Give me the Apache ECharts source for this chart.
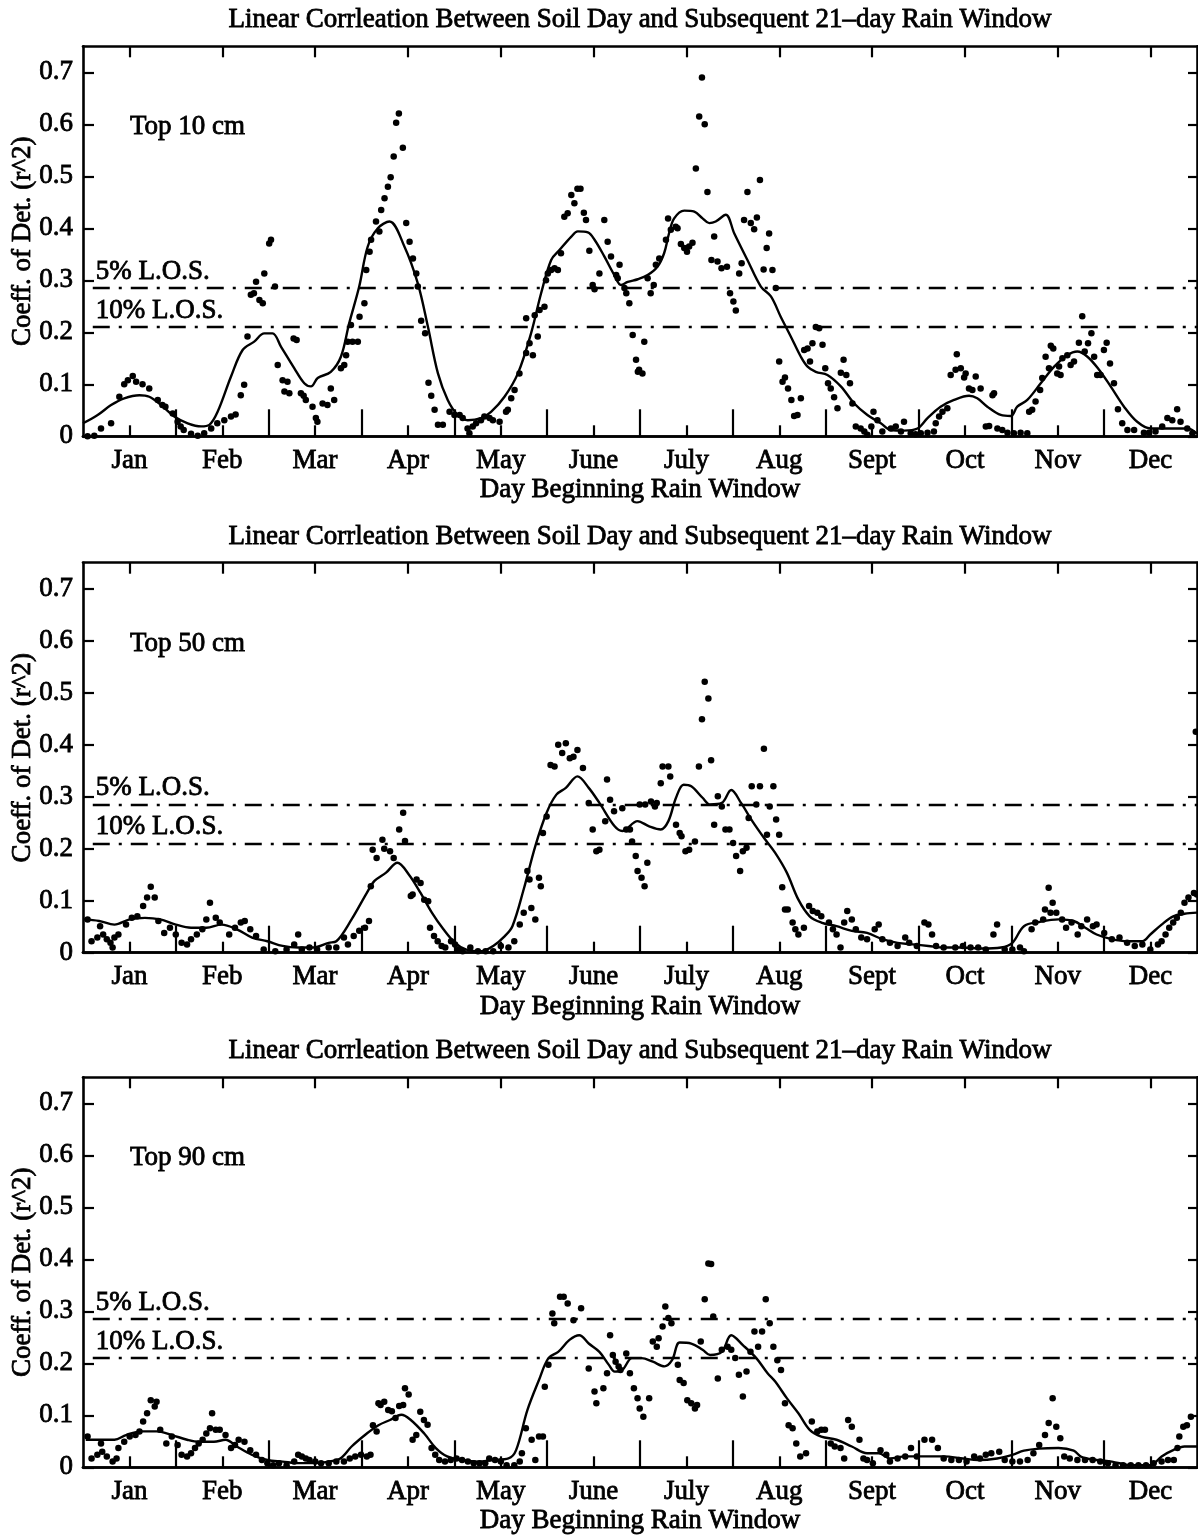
<!DOCTYPE html>
<html>
<head>
<meta charset="utf-8">
<script src="https://cdn.jsdelivr.net/npm/echarts@6/dist/echarts.min.js"></script>
<style>
  html, body { margin: 0; padding: 0; background: #fff; }
  #chart { width: 1198px; height: 1536px; }
</style>
</head>
<body>
<div id="chart"></div>
<script>
// ---------- axis / label data ----------
const MONTHS = ['Jan', 'Feb', 'Mar', 'Apr', 'May', 'June', 'July', 'Aug', 'Sept', 'Oct', 'Nov', 'Dec'];
const YEAR_DAYS = 365;
const Y_TICKS = [0, 0.1, 0.2, 0.3, 0.4, 0.5, 0.6, 0.7];
const Y_MAX = 0.75;
const TITLE = 'Linear Corrleation Between Soil Day and Subsequent 21\u2013day Rain Window';
const X_NAME = 'Day Beginning Rain Window';
const Y_NAME = 'Coeff. of Det. (r^2)';
const PANEL_LABELS = ['Top 10 cm', 'Top 50 cm', 'Top 90 cm'];
const LOS_LABELS = ['5% L.O.S.', '10% L.O.S.'];
const LOS_VALUES = [0.285, 0.21];
const LOS_X = [3.2, 365];

// ---------- Top 10 cm ----------
const DOTS_10 = [[1.5,0.0],[3.7,0.001],[5.9,0.015],[9.2,0.025],[11.9,0.076],[13.5,0.10],[14.7,0.108],[16.3,0.116],[17.4,0.105],[19.5,0.10],[21.7,0.092],[24.5,0.07],[26,0.06],[27,0.057],[29.4,0.044],[31,0.028],[32,0.019],[33,0.012],[35.4,0.005],[37.6,0.001],[39.7,0.006],[42,0.015],[44,0.025],[46.3,0.031],[48.5,0.038],[50,0.042],[51.7,0.079],[52.8,0.099],[53.9,0.192],[55,0.272],[56,0.275],[56.7,0.297],[57.8,0.262],[58.9,0.256],[59.4,0.313],[61,0.371],[61.6,0.378],[62.9,0.288],[63.8,0.137],[65.4,0.108],[66,0.086],[67,0.105],[67.6,0.083],[69,0.188],[70,0.185],[71.4,0.083],[72.3,0.078],[73,0.07],[75.2,0.057],[76.3,0.035],[76.8,0.028],[78.5,0.063],[80.1,0.06],[81.2,0.092],[82.3,0.07],[84.5,0.131],[85.6,0.137],[86.2,0.156],[86.7,0.182],[87.8,0.214],[88.3,0.182],
[90.05,0.182],[90.6,0.23],[92.2,0.256],[92.8,0.32],[93.9,0.355],[94.4,0.378],[96,0.413],[97.1,0.394],[97.7,0.435],[98.8,0.458],[99.9,0.48],[100.8,0.498],[101.8,0.538],[102.6,0.603],[103.5,0.621],[104.8,0.555],[105.9,0.41],[107,0.374],[108.1,0.342],[109.2,0.313],[109.7,0.288],[110.8,0.222],[112.1,0.198],[113.2,0.103],[114.1,0.078],[115.2,0.051],[116.3,0.022],[117.9,0.022],[120.1,0.047],[121.7,0.041],[123.4,0.041],[124.4,0.035],[126,0.015],[126.6,0.006],[127.7,0.019],[128.8,0.025],[130.4,0.031],[131.5,0.038],[133.2,0.035],[134.3,0.031],[136.5,0.028],[138.6,0.047],[139.2,0.051],[140.3,0.073],[141.4,0.089],[143,0.121],[145.2,0.16],[145.2,0.227],[146.3,0.179],[147.4,0.156],[148,0.233],[149,0.192],[149.6,0.243],[151.2,0.249],[151.7,0.30],[152.3,0.313],[153.4,0.32],[154.5,0.323],[155.6,0.32],[156.6,0.352],[157.7,0.422],[158.8,0.429],[160,0.464],[161,0.448],[162,0.476],[163,0.476],[164.1,0.43],[164.8,0.416],[165.9,0.357],[167,0.291],[167.6,0.283],[169.2,0.313],[170.8,0.416],[171.9,0.374],[173,0.346],[174.7,0.31],[175.2,0.304],[175.8,0.33],[177.4,0.285],[178,0.275],[179,0.256],[180.1,0.195],[181.2,0.147],[181.8,0.124],
[182.2,0.128],[183.3,0.121],[183.9,0.182],[185,0.304],[186,0.275],[187,0.291],[187.7,0.33],[188.8,0.342],[191,0.378],[191.7,0.419],[192.6,0.397],[194.2,0.403],[194.8,0.40],[195.9,0.37],[197,0.362],[197.9,0.355],[198.6,0.365],[199.7,0.372],[200.8,0.515],[201.9,0.615],[202.8,0.69],[203.7,0.60],[204.6,0.47],[205.9,0.339],[206.8,0.384],[207.9,0.336],[209.2,0.323],[211,0.326],[212,0.275],[213.1,0.259],[213.9,0.242],[215,0.313],[215.8,0.333],[216.6,0.416],[217.7,0.47],[218.8,0.41],[219.9,0.398],[220.8,0.421],[221.8,0.493],[223,0.321],[224,0.362],[224.8,0.39],[225.9,0.32],[227,0.285],[228.1,0.144],[229.2,0.105],[230,0.113],[231,0.092],[232.1,0.07],[233,0.039],[234.1,0.041],[235.2,0.073],[236.3,0.166],[237.4,0.169],[238.2,0.144],[239,0.179],[240.1,0.21],[241.2,0.208],[242.3,0.176],[243.2,0.131],[244.1,0.102],[245,0.092],[246.1,0.075],[247.2,0.054],[248.3,0.122],[249.2,0.147],[250.1,0.118],[251.3,0.102],[252.1,0.063],[253.2,0.019],[254.8,0.015],[256,0.009],[257,0.003],[258.3,0.019],[259,0.047],[260.3,0.031],[261.9,0.009],[264.7,0.015],[266.3,0.019],[268,0.009],[269,0.028],[271.2,0.006],
[272.8,0.004],[274.5,0.006],[276.7,0.007],[278.8,0.009],[279.4,0.025],[280.5,0.038],[281.6,0.047],[283.2,0.054],[284.3,0.118],[285.9,0.128],[286.3,0.158],[287.6,0.131],[288.7,0.113],[289.2,0.121],[290.3,0.092],[291.4,0.089],[292.5,0.115],[294.1,0.092],[295.8,0.019],[296.9,0.02],[298,0.079],[298.5,0.083],[299.6,0.015],[301.2,0.012],[302.9,0.007],[305,0.006],[307.2,0.007],[309.4,0.006],[310,0.047],[311,0.051],[312.1,0.067],[313.6,0.089],[314.3,0.112],[315.4,0.153],[316.5,0.131],[317.1,0.174],[317.9,0.169],[319.2,0.121],[319.8,0.134],[320.3,0.118],[320.9,0.15],[322.5,0.156],[323.6,0.137],[324.7,0.144],[326.3,0.18],[327.4,0.231],[328.2,0.163],[329.3,0.179],[330.4,0.198],[331.3,0.153],[332.3,0.118],[333.4,0.118],[334.5,0.166],[335.4,0.18],[336.5,0.14],[337.8,0.102],[339.1,0.052],[340.5,0.025],[342.2,0.012],[344.4,0.012],[347.6,0.007],[349.3,0.007],[351.4,0.009],[353.6,0.019],[355.3,0.035],[356.9,0.031],[358.5,0.052],[359.6,0.028],[361.8,0.015],[363.5,0.006]];
const LINE_10 = [[0,0.025],[4.8,0.041],[9.2,0.06],[13.5,0.073],[18.5,0.079],[21.7,0.076],[25.6,0.06],[29.9,0.038],[34.3,0.025],[38.7,0.019],[41.4,0.022],[44.1,0.047],[48.5,0.115],[52.3,0.166],[56.1,0.182],[59.4,0.198],[62.1,0.198],[64.9,0.172],[69.2,0.131],[72.5,0.102],[74.7,0.096],[76.9,0.112],[81.2,0.124],[84.5,0.153],[87.2,0.217],[90.5,0.288],[93.3,0.365],[96.6,0.40],[100.4,0.413],[105.3,0.365],[109.7,0.294],[113,0.211],[116.3,0.121],[119.5,0.07],[122.8,0.041],[126.1,0.031],[130.4,0.035],[133.7,0.047],[138.1,0.076],[142.5,0.121],[146.8,0.198],[150.1,0.275],[153.4,0.339],[156.1,0.358],[160,0.384],[162.1,0.394],[165.4,0.392],[167.6,0.378],[170.8,0.346],[174.1,0.31],[176.3,0.291],[178.5,0.297],[181.8,0.302],[185,0.31],[188.2,0.326],[190.4,0.352],[192,0.39],[193.7,0.419],[197,0.434],[200.3,0.432],[203,0.419],[205.2,0.41],[207.3,0.413],[210.6,0.426],[213.4,0.39],[217.7,0.339],[222.1,0.288],[225.4,0.269],[228.6,0.23],[231.9,0.192],[235.2,0.153],[237.4,0.134],[240.1,0.124],[243.9,0.118],[248.3,0.096],[252.7,0.063],[257,0.041],[261.4,0.025],[264.7,0.012],[269,0.011],[273.4,0.015],[276.7,0.035],[281,0.057],[285.4,0.07],[290.3,0.078],[293,0.073],[296.3,0.057],[300.7,0.041],[304,0.039],[306.1,0.057],[309.4,0.07],[313.8,0.102],[318.2,0.134],[322.5,0.156],[325.8,0.163],[329.1,0.153],[332.9,0.128],[336.7,0.096],[341.1,0.057],[345.4,0.028],[349.8,0.015],[354.2,0.015],[358.5,0.015],[361.8,0.015],[365,0.005]];

// ---------- Top 50 cm ----------
const DOTS_50 = [[1.5,0.064],[2.8,0.022],[4.7,0.029],[5.6,0.051],[6.6,0.035],[7.8,0.026],[9,0.019],[9.7,0.01],[10.3,0.029],[11.6,0.035],[14.1,0.054],[16,0.067],[17.8,0.07],[19.7,0.09],[21,0.106],[22.2,0.127],[23.5,0.106],[24.7,0.061],[26.6,0.038],[28.5,0.048],[30.4,0.035],[32.3,0.019],[34.1,0.016],[35.4,0.026],[37.3,0.035],[39.1,0.045],[40.4,0.064],[41.6,0.096],[43.5,0.067],[44.8,0.058],[47.9,0.035],[49.8,0.048],[51.7,0.058],[53,0.061],[54.8,0.045],[56.7,0.032],[59.2,0.006],[63,0.003],[66.7,0.006],[69.2,0.016],[70.5,0.035],[71.7,0.006],[74.2,0.01],[76.7,0.006],[80.5,0.01],[83,0.01],[85.5,0.029],[86.8,0.016],[88.7,0.032],[90.5,0.042],[92.4,0.048],[93.7,0.061],[94.3,0.128],[94.9,0.198],[96.2,0.182],[98.1,0.217],[98.7,0.2],[100.6,0.195],[101.8,0.182],[103.6,0.237],[104.9,0.269],[105.5,0.215],[107.4,0.109],[108,0.112],[109.3,0.141],[110.6,0.134],[111.8,0.102],[113.1,0.099],[113.7,0.048],[115,0.032],[116.2,0.022],[117.5,0.013],[118.7,0.01],[120.6,0.022],[121.9,0.016],[123.1,0.006],[124.4,0.003],[126.9,0.01],[129.4,0.003],[131.9,0.003],[134.4,0.003],[136.9,0.013],[139.4,0.01],[141.3,0.022],[143.1,0.054],[144.4,0.077],[145.6,0.157],[146.3,0.141],[146.9,0.086],[148.2,0.064],[149.4,0.144],[150,0.128],[150.7,0.23],[151.9,0.262],[153.2,0.361],[154.5,0.358],[155.7,0.40],[157,0.384],[158.2,0.403],[159.5,0.374],[160.7,0.377],[162,0.39],[163.8,0.355],[165.7,0.288],[167,0.237],[168.2,0.195],[169.2,0.198],[171.1,0.253],[171.7,0.333],[172.7,0.294],[174,0.272],[176.7,0.278],[178,0.237],[179.2,0.237],[179.9,0.214],[181.1,0.186],[181.7,0.157],[182.4,0.285],[183,0.144],[184,0.128],[184.2,0.285],[184.9,0.173],[186.1,0.291],[187.4,0.281],[188,0.288],[189.3,0.326],[189.9,0.358],[191.8,0.358],[192.4,0.339],[194.3,0.246],[195.5,0.23],[196.1,0.224],[197.4,0.195],[198.6,0.198],[200.5,0.214],[201.8,0.358],[202.8,0.449],[203.7,0.521],[204.9,0.489],[205.8,0.37],[206.8,0.246],[208,0.301],[209.3,0.281],[210.5,0.237],[211.8,0.237],[213,0.211],[214,0.186],[215.3,0.157],[216.2,0.195],[217.4,0.202],[218.1,0.259],[219.1,0.32],[220.6,0.285],[221.8,0.32],[223.1,0.392],[224.1,0.227],[225,0.281],[226.2,0.32],[227.1,0.256],[228.1,0.227],[229.1,0.126],[230,0.083],[230.9,0.083],[232.5,0.058],[233.4,0.045],[234.4,0.035],[236.2,0.048],[237.9,0.09],[239.1,0.08],[240.6,0.077],[241.9,0.07],[244.4,0.058],[245.7,0.045],[246.9,0.035],[248.2,0.01],[249.4,0.058],[250.4,0.08],[251.9,0.064],[253.2,0.045],[255,0.029],[256.9,0.026],[259.4,0.045],[260.7,0.054],[261.9,0.026],[264.4,0.019],[266.9,0.013],[269.4,0.029],[270.7,0.019],[273.2,0.013],[275.7,0.058],[277,0.054],[278.2,0.035],[279.5,0.013],[282,0.01],[285.8,0.01],[288.3,0.013],[290.8,0.01],[293.3,0.01],[295.8,0.006],[298.3,0.035],[299.5,0.054],[302,0.006],[304.5,0.006],[307,0.01],[308.3,0.003],[310.8,0.045],[312,0.058],[314.6,0.064],[315.2,0.083],[316.4,0.125],[317,0.077],[317.7,0.096],[318.9,0.077],[320.8,0.064],[322.1,0.048],[323.9,0.058],[325.9,0.035],[327.1,0.051],[329,0.064],[330.9,0.051],[332.1,0.054],[334.6,0.038],[337.1,0.026],[339.6,0.029],[342.1,0.019],[344.6,0.013],[347.1,0.016],[349.7,0.006],[352.2,0.016],[353.4,0.022],[354.7,0.035],[355.9,0.048],[357.2,0.058],[358.4,0.067],[359.7,0.077],[360.9,0.096],[362.2,0.106],[364,0.115],[365,0.112],[364.6,0.425]];
const LINE_50 = [[0.3,0.064],[5.3,0.061],[10.3,0.054],[15.3,0.064],[20.3,0.067],[25.3,0.064],[30.4,0.054],[35.4,0.048],[40.4,0.048],[45.4,0.054],[50.4,0.045],[55.4,0.029],[60.4,0.022],[65.4,0.013],[70.5,0.01],[75.5,0.01],[80.5,0.019],[83,0.022],[88,0.064],[93,0.115],[95.5,0.138],[99.3,0.154],[103,0.173],[106.8,0.15],[110.6,0.115],[114.3,0.077],[118.1,0.045],[121.9,0.019],[125.6,0.006],[130.6,0.003],[134.4,0.013],[138.2,0.032],[140.7,0.051],[144.4,0.122],[148.2,0.205],[151.9,0.269],[155.1,0.304],[158.2,0.317],[162,0.339],[165.7,0.317],[169.2,0.288],[174.2,0.243],[176.7,0.234],[181.7,0.253],[185.5,0.243],[189.3,0.237],[191.8,0.253],[194.3,0.298],[196.8,0.323],[199.3,0.32],[203,0.298],[205.5,0.285],[209.3,0.288],[212.4,0.313],[215.6,0.288],[219.3,0.253],[223.1,0.221],[226.8,0.192],[230.6,0.154],[234.4,0.102],[238.1,0.07],[241.9,0.058],[246.9,0.051],[251.9,0.042],[256.9,0.038],[261.9,0.026],[266.9,0.019],[271.9,0.016],[277,0.013],[282,0.01],[288.3,0.01],[294.5,0.008],[300.8,0.01],[304.5,0.019],[308.3,0.051],[313.3,0.059],[319.6,0.064],[324.6,0.061],[328.4,0.048],[332.1,0.035],[337.1,0.026],[342.1,0.022],[347.1,0.022],[349.7,0.035],[353.4,0.054],[357.2,0.07],[360.9,0.075],[365,0.077]];

// ---------- Top 90 cm ----------
const DOTS_90 = [[1.5,0.059],[2.8,0.017],[4.7,0.024],[5.9,0.046],[6.3,0.03],[7.8,0.021],[9.7,0.011],[11,0.017],[11.6,0.037],[13.5,0.049],[15.3,0.059],[17.2,0.062],[18.5,0.069],[19.7,0.088],[21,0.104],[22.2,0.129],[23.5,0.117],[24.1,0.126],[25.3,0.072],[27.3,0.046],[29.1,0.059],[31,0.043],[32.3,0.024],[34.1,0.021],[35.4,0.027],[36.7,0.037],[37.9,0.046],[39.2,0.053],[40.4,0.065],[41.6,0.075],[42.3,0.104],[43.5,0.072],[44.8,0.072],[46.7,0.062],[48.5,0.037],[49.8,0.043],[51,0.053],[52.9,0.049],[54.8,0.033],[56.7,0.024],[58.6,0.014],[60.4,0.008],[62.3,0.004],[64.2,0.008],[66.7,0.004],[69.2,0.011],[70.5,0.024],[71.7,0.021],[73,0.017],[74.2,0.014],[76.1,0.011],[78,0.008],[80.5,0.008],[83,0.011],[85.5,0.011],[87.4,0.017],[89.2,0.021],[91.1,0.024],[93,0.021],[94.2,0.024],[95,0.081],[96.2,0.069],[96.8,0.123],[97.5,0.12],[98.7,0.126],[100,0.11],[101.2,0.108],[102.4,0.095],[103.6,0.118],[104.9,0.12],[105.5,0.152],[106.7,0.14],[108,0.053],[109.2,0.062],[110.5,0.107],[111.7,0.091],[112.9,0.082],[114.2,0.037],[115.4,0.024],[116.7,0.014],[118.6,0.011],[120.5,0.014],[122.4,0.017],[124.2,0.014],[126.1,0.011],[128,0.008],[129.9,0.008],[131.8,0.008],[133.1,0.017],[135,0.014],[136.9,0.011],[138.8,0.004],[141.3,0.004],[143.1,0.011],[143.8,0.027],[145.1,0.075],[147,0.053],[148.2,0.014],[149.4,0.059],[150.7,0.059],[151.3,0.155],[152.5,0.197],[153.8,0.296],[154.4,0.277],[156.3,0.328],[157.5,0.328],[158.8,0.315],[160.7,0.283],[163.2,0.306],[165.7,0.19],[167.6,0.146],[168.2,0.123],[170.5,0.152],[171.7,0.181],[172.7,0.254],[173.6,0.216],[174.5,0.203],[175.5,0.194],[176.1,0.187],[178,0.219],[179.2,0.181],[180.5,0.152],[181.7,0.133],[182.4,0.113],[183.6,0.097],[185.5,0.133],[186.7,0.242],[188,0.232],[188.6,0.248],[189.9,0.271],[190.8,0.309],[191.8,0.287],[192.8,0.277],[194.9,0.197],[195.5,0.168],[196.8,0.162],[198,0.129],[199.3,0.123],[200.5,0.113],[201.2,0.12],[202.4,0.242],[203.7,0.323],[204.9,0.392],[205.8,0.391],[206.5,0.29],[208,0.171],[209.3,0.226],[211.2,0.232],[212.4,0.226],[213.7,0.21],[214.9,0.178],[216.2,0.136],[217.4,0.184],[218.7,0.222],[220,0.261],[221.2,0.232],[222.5,0.261],[223.7,0.323],[225,0.277],[226.2,0.232],[227.5,0.206],[228.7,0.187],[230,0.123],[231.2,0.081],[232.5,0.075],[233.7,0.046],[235,0.021],[236.9,0.027],[238.8,0.088],[240.6,0.069],[241.9,0.072],[243.1,0.072],[245,0.046],[246.3,0.04],[248.2,0.037],[249.4,0.017],[250.7,0.091],[251.9,0.078],[254.4,0.053],[255.7,0.017],[256.9,0.014],[258.8,0.008],[261.3,0.033],[263.2,0.024],[264.4,0.011],[266.9,0.017],[269.4,0.021],[271.3,0.037],[273.2,0.021],[275.7,0.053],[278.2,0.053],[280.1,0.037],[282,0.017],[284.5,0.014],[287,0.014],[289.5,0.011],[292,0.021],[293.9,0.017],[295.8,0.024],[297.6,0.027],[300.2,0.03],[302,0.014],[304.5,0.011],[307,0.011],[309.5,0.014],[311.4,0.027],[313.3,0.043],[315.2,0.062],[316.4,0.085],[317.7,0.133],[318.9,0.078],[320.2,0.056],[321.5,0.021],[323.3,0.017],[325.8,0.014],[328.3,0.014],[330.8,0.014],[333.3,0.011],[335.8,0.008],[338.3,0.004],[340.8,0.004],[343.3,0.004],[345.8,0.004],[348.3,0.004],[350.8,0.008],[353.4,0.011],[355.5,0.014],[357.4,0.014],[358.6,0.037],[359.2,0.059],[360.5,0.078],[361.7,0.081],[363,0.097]];
const LINE_90 = [[0.9,0.053],[5.3,0.053],[10.3,0.053],[14.1,0.062],[19.1,0.069],[24.1,0.069],[29.1,0.062],[34.1,0.053],[37.9,0.049],[42.9,0.049],[46.7,0.053],[50.4,0.04],[55.4,0.024],[60.4,0.014],[65.4,0.011],[70.5,0.008],[75.5,0.008],[80.5,0.011],[84.3,0.017],[88,0.04],[93,0.065],[96.8,0.081],[100.6,0.091],[104.3,0.101],[107.4,0.091],[111.8,0.065],[115.6,0.037],[119.3,0.021],[124.4,0.014],[129.4,0.011],[134.4,0.014],[139.4,0.017],[141.9,0.033],[145.6,0.11],[149.4,0.168],[152.5,0.21],[155.7,0.222],[159.4,0.245],[162.6,0.254],[165.7,0.238],[169.2,0.222],[172.3,0.197],[174.2,0.184],[176.7,0.187],[179.9,0.21],[183,0.21],[186.7,0.203],[190.5,0.194],[193,0.206],[195.5,0.24],[199.3,0.238],[203,0.226],[205.5,0.216],[209.3,0.222],[212.4,0.254],[216.2,0.235],[220.6,0.21],[224.3,0.181],[226.8,0.165],[230.6,0.133],[234.4,0.104],[238.1,0.072],[241.9,0.059],[246.9,0.053],[251.9,0.04],[256.9,0.027],[260.7,0.027],[264.4,0.017],[269.4,0.021],[275.7,0.021],[282,0.021],[288.3,0.017],[293.3,0.014],[299.5,0.017],[304.5,0.024],[308.3,0.032],[313.3,0.036],[319.6,0.037],[324.6,0.032],[327.1,0.02],[332.1,0.014],[337.1,0.011],[343.4,0.004],[349.7,0.004],[353.4,0.021],[357.2,0.033],[360.9,0.04],[365,0.04]];

// ---------- layout ----------
const FONT = '"Liberation Serif", "Times New Roman", serif';
const FS = 27;
const STROKE = 0.8;
const GRID_LEFT = 83, GRID_W = 1114, GRID_H = 390;
const GRID_TOPS = [46.3, 562.7, 1077.3];
const MONTH_LEN = YEAR_DAYS / 12;
const MONTH_MID = MONTHS.map((m, i) => (i + 0.5) * MONTH_LEN);
const MONTH_EDGE = MONTHS.slice(1).map((m, i) => (i + 1) * MONTH_LEN);
const PANELS = [
  { dots: DOTS_10, line: LINE_10 },
  { dots: DOTS_50, line: LINE_50 },
  { dots: DOTS_90, line: LINE_90 }
];

const black = '#000';
const axisLine = { show: true, onZero: false, lineStyle: { color: black, width: 2.6 } };
const tickStyle = { color: black, width: 2.2 };
const textBase = { fontFamily: FONT, fontSize: FS, color: black, textBorderColor: black, textBorderWidth: STROKE };

const grids = [], xAxes = [], yAxes = [], series = [], graphics = [];

PANELS.forEach((p, i) => {
  grids.push({ left: GRID_LEFT, top: GRID_TOPS[i], width: GRID_W, height: GRID_H });
  const xBase = { gridIndex: i, type: 'value', min: 0, max: YEAR_DAYS, splitLine: { show: false }, axisLine };
  xAxes.push(Object.assign({}, xBase, {
    position: 'bottom',
    axisTick: { show: true, inside: true, length: 11, lineStyle: tickStyle, customValues: MONTH_MID },
    axisLabel: Object.assign({ show: true, margin: 11, customValues: MONTH_MID,
      formatter: v => MONTHS[Math.floor(v / MONTH_LEN)] }, textBase)
  }));
  xAxes.push(Object.assign({}, xBase, {
    position: 'bottom',
    axisTick: { show: true, inside: true, length: 27, lineStyle: tickStyle, customValues: MONTH_EDGE },
    axisLabel: { show: false }
  }));
  xAxes.push(Object.assign({}, xBase, {
    position: 'top',
    axisTick: { show: true, inside: true, length: 11, lineStyle: tickStyle, customValues: MONTH_MID },
    axisLabel: { show: false }
  }));
  const yBase = { gridIndex: i, type: 'value', min: 0, max: Y_MAX, splitLine: { show: false }, axisLine };
  yAxes.push(Object.assign({}, yBase, {
    position: 'left',
    axisTick: { show: true, inside: true, length: 11, lineStyle: tickStyle, customValues: Y_TICKS },
    axisLabel: Object.assign({ show: true, margin: 10, customValues: Y_TICKS,
      formatter: v => (v === 0 ? '0' : v.toFixed(1)) }, textBase)
  }));
  yAxes.push(Object.assign({}, yBase, {
    position: 'right',
    axisTick: { show: true, inside: true, length: 9, lineStyle: tickStyle, customValues: Y_TICKS },
    axisLabel: { show: false }
  }));

  series.push({
    type: 'scatter', xAxisIndex: i * 3, yAxisIndex: i * 2,
    data: p.dots, symbol: 'circle', symbolSize: 6.5,
    itemStyle: { color: black, opacity: 1 }, silent: true, animation: false,
    markLine: {
      silent: true, symbol: 'none', animation: false,
      lineStyle: { color: black, width: 2.3, type: [17, 9, 3, 9], opacity: 1 },
      label: Object.assign({ show: true, position: 'insideStartTop', distance: [3, 3], formatter: '{b}' }, textBase),
      data: LOS_VALUES.map((v, k) => [
        { coord: [LOS_X[0], v], name: LOS_LABELS[k] },
        { coord: [LOS_X[1], v] }
      ])
    }
  });
  series.push({
    type: 'line', xAxisIndex: i * 3, yAxisIndex: i * 2,
    data: p.line, smooth: 0.35, showSymbol: false, symbol: 'none',
    lineStyle: { color: black, width: 2.4 }, silent: true, animation: false
  });

  const top = GRID_TOPS[i];
  const cx = GRID_LEFT + GRID_W / 2;
  const txt = (text, x, y, align, rot) => ({
    type: 'text', x, y, rotation: rot || 0, silent: true,
    style: { text, font: FS + 'px ' + FONT, fill: black, stroke: black, lineWidth: STROKE,
      align, verticalAlign: 'middle', textAlign: align, textVerticalAlign: 'middle' }
  });
  graphics.push(txt(TITLE, cx, top - 26, 'center'));
  graphics.push(txt(X_NAME, cx, top + GRID_H + 54, 'center'));
  graphics.push(txt(Y_NAME, 23, top + GRID_H / 2, 'center', Math.PI / 2));
  graphics.push(txt(PANEL_LABELS[i], 130, top + 81, 'left'));
});

const chart = echarts.init(document.getElementById('chart'), null, { renderer: 'canvas' });
chart.setOption({
  backgroundColor: '#fff',
  animation: false,
  grid: grids,
  xAxis: xAxes,
  yAxis: yAxes,
  series,
  graphic: graphics
});
</script>
</body>
</html>
